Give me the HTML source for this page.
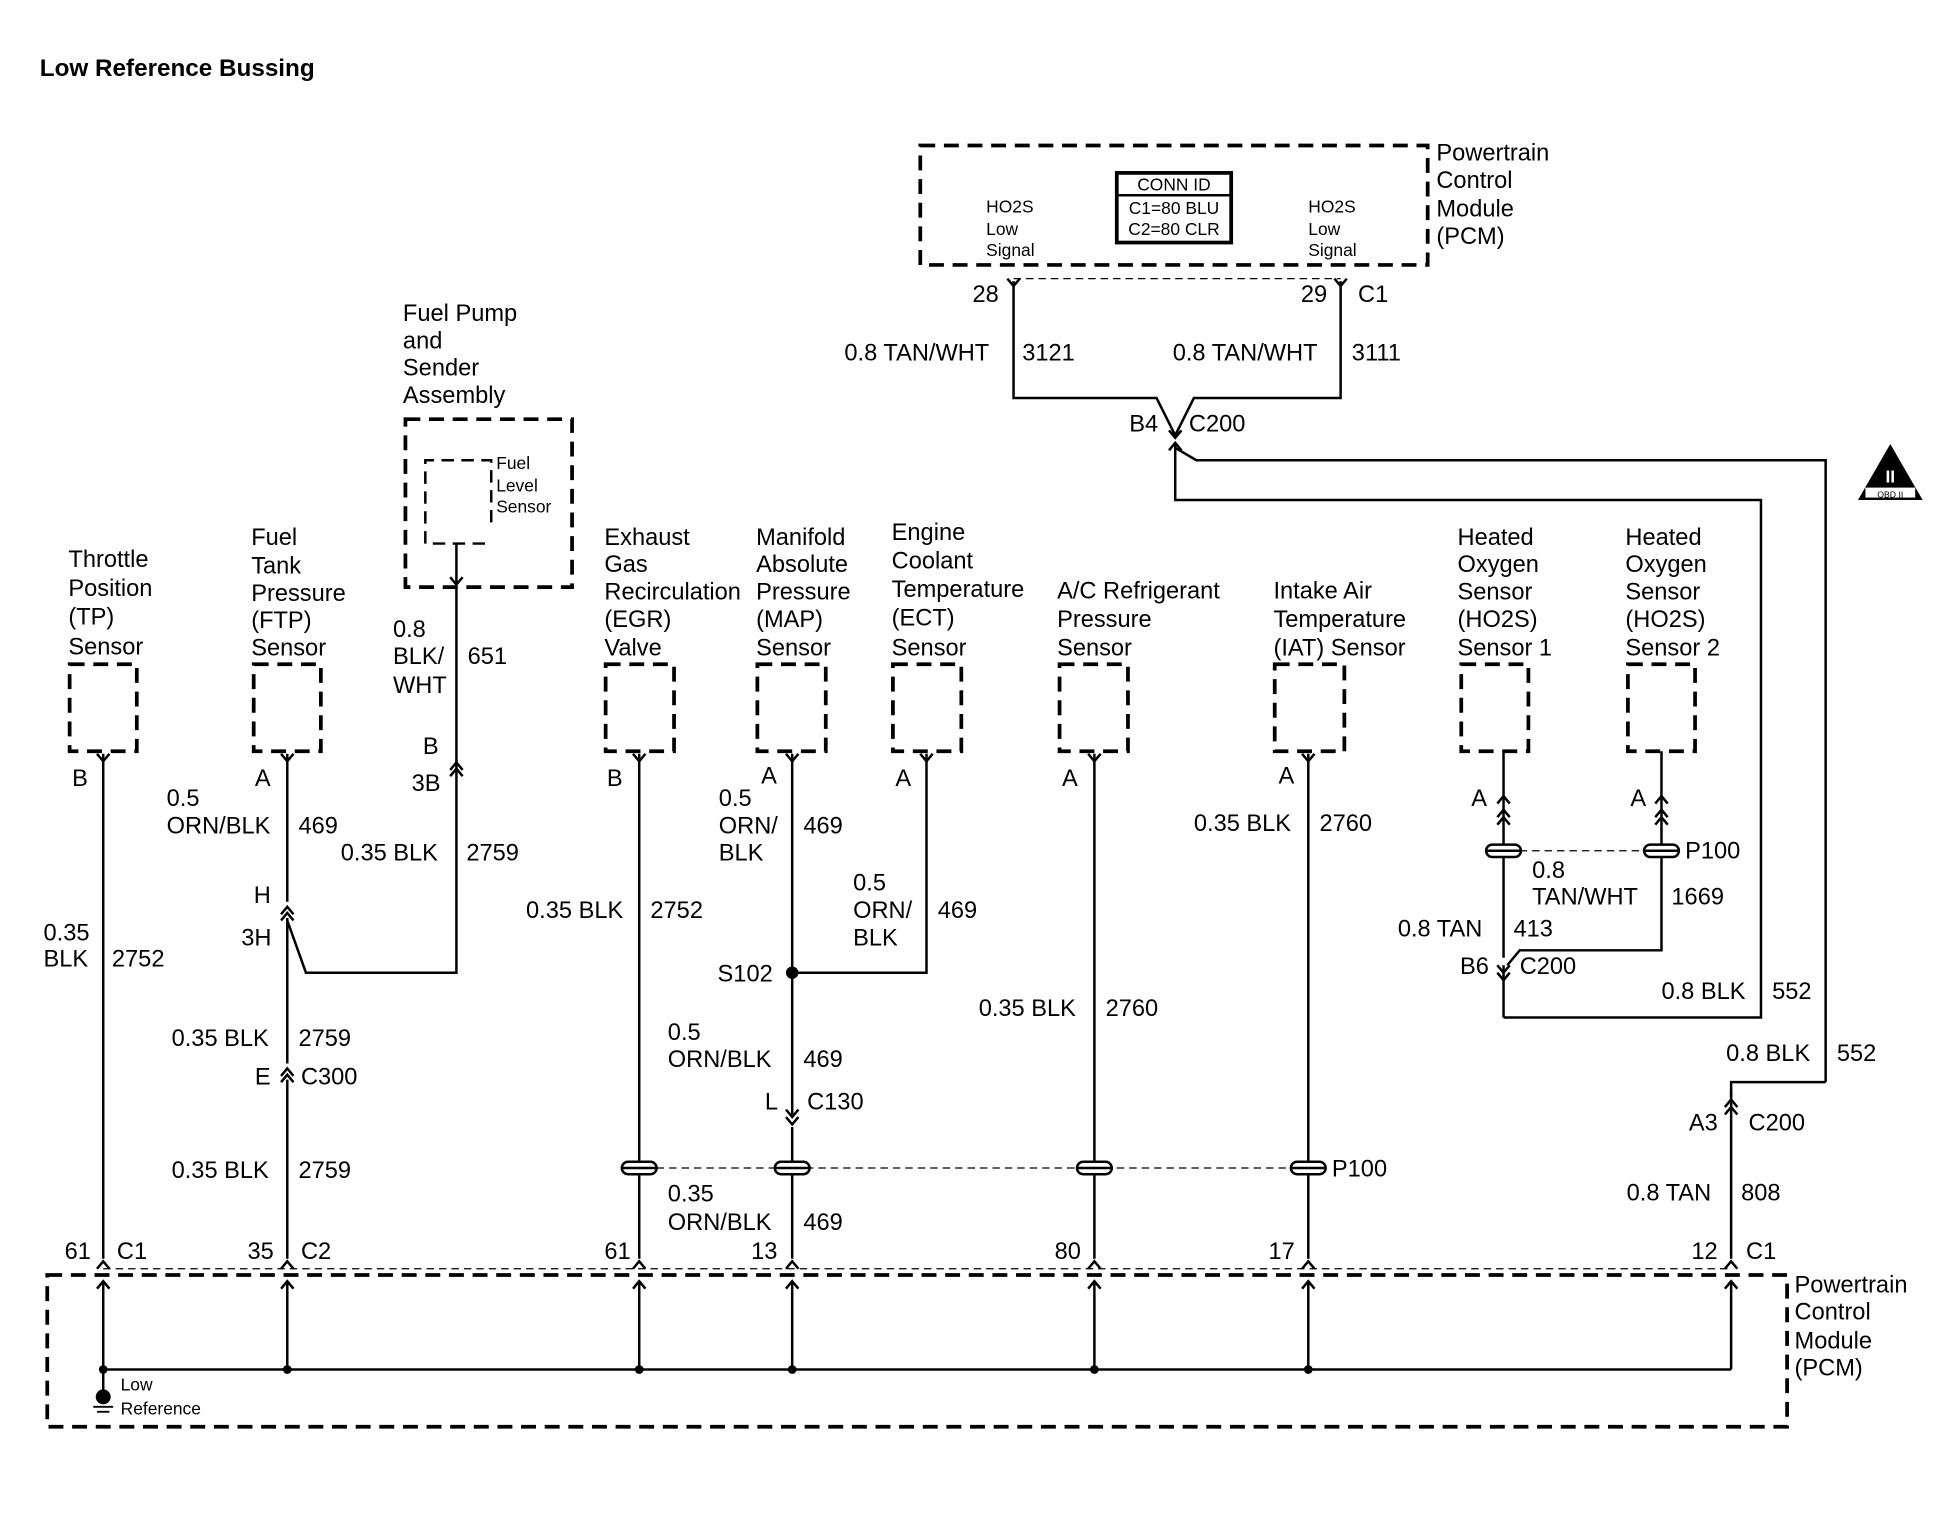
<!DOCTYPE html>
<html><head><meta charset="utf-8"><style>
html,body{margin:0;padding:0;background:#fff;}
svg{display:block;}
text{font-family:"Liberation Sans",Arial,sans-serif;fill:#000;}
.t{font-size:19px;}
.s{font-size:14px;}
.w{stroke:#000;stroke-width:2;fill:none;}
.d{stroke:#000;stroke-width:3;fill:none;stroke-dasharray:12 7;}
.dl{stroke:#000;stroke-width:1;fill:none;stroke-dasharray:6 4;}
</style></head><body>
<svg width="1950" height="1520" viewBox="0 0 1568 1222" preserveAspectRatio="none" xmlns="http://www.w3.org/2000/svg">
<defs>
<path id="cu" d="M-5 6 L0 0 L5 6" stroke="#000" stroke-width="2" fill="none"/>
<path id="cd" d="M-5 -6 L0 0 L5 -6" stroke="#000" stroke-width="2" fill="none"/>
<g id="ic"><rect x="-14" y="-5" width="28" height="10" rx="5" fill="#fff" stroke="#000" stroke-width="2"/><line x1="-14" y1="0" x2="14" y2="0" stroke="#000" stroke-width="2"/></g>
</defs>
<text x="32" y="61" font-weight="bold" style="font-size:19.5px">Low Reference Bussing</text>

<!-- Top PCM -->
<rect x="740" y="117" width="408" height="96" class="d"/>
<rect x="898" y="139" width="92" height="56" fill="none" stroke="#000" stroke-width="3"/>
<line x1="898" y1="157" x2="990" y2="157" stroke="#000" stroke-width="2"/>
<text x="944" y="153" class="s" text-anchor="middle">CONN ID</text>
<text x="944" y="172" class="s" text-anchor="middle">C1=80 BLU</text>
<text x="944" y="189" class="s" text-anchor="middle">C2=80 CLR</text>
<text class="s" x="793" y="171">HO2S</text><text class="s" x="793" y="189">Low</text><text class="s" x="793" y="206">Signal</text>
<text class="s" x="1052" y="171">HO2S</text><text class="s" x="1052" y="189">Low</text><text class="s" x="1052" y="206">Signal</text>
<text class="t" x="1155" y="129">Powertrain</text><text class="t" x="1155" y="151">Control</text><text class="t" x="1155" y="174">Module</text><text class="t" x="1155" y="196">(PCM)</text>
<line x1="815" y1="224" x2="1078" y2="224" class="dl"/>
<use href="#cd" x="815" y="230"/><use href="#cd" x="1078" y="230"/>
<text class="t" x="782" y="243">28</text><text class="t" x="1046" y="243">29</text><text class="t" x="1092" y="243">C1</text>
<path class="w" d="M815 226 V320 H930 L945 350 L960 320 H1078 V226"/>
<text class="t" x="679" y="290">0.8 TAN/WHT</text><text class="t" x="822" y="290">3121</text>
<text class="t" x="943" y="290">0.8 TAN/WHT</text><text class="t" x="1087" y="290">3111</text>
<text class="t" x="908" y="347">B4</text><text class="t" x="956" y="347">C200</text>
<use href="#cd" x="945" y="352"/><use href="#cu" x="945" y="356"/>
<path class="w" d="M945 356 V402 H1416 V818 H1209"/>
<path class="w" d="M945 360 L962 370 H1468 V870"/>
<!-- OBD symbol -->
<polygon points="1520,357 1546,402 1494,402" fill="#000"/>
<text x="1520" y="388" font-size="14" style="fill:#fff" text-anchor="middle" font-weight="bold">II</text>
<rect x="1500" y="392" width="40" height="8" fill="#fff"/>
<text x="1520" y="400" font-size="7" text-anchor="middle">OBD II</text>

<!-- Fuel pump -->
<text class="t" x="324" y="258">Fuel Pump</text><text class="t" x="324" y="280">and</text><text class="t" x="324" y="302">Sender</text><text class="t" x="324" y="324">Assembly</text>
<rect x="326" y="337" width="134" height="135" class="d"/>
<path d="M395 420 V370 H342 V437 H395" class="w" stroke-dasharray="10 6" stroke-width="2.5"/>
<text class="s" x="399" y="377">Fuel</text><text class="s" x="399" y="395">Level</text><text class="s" x="399" y="412">Sensor</text>
<path class="w" d="M367 437 V470"/><use href="#cd" x="367" y="470"/>
<path class="w" d="M367 472 V782 H246 L231 740"/>
<text class="t" x="316" y="512">0.8</text><text class="t" x="316" y="534">BLK/</text><text class="t" x="316" y="557">WHT</text><text class="t" x="376" y="534">651</text>
<text class="t" x="340" y="606">B</text><text class="t" x="331" y="636">3B</text>
<use href="#cu" x="367" y="613"/><use href="#cu" x="367" y="618"/>

<!-- Sensor labels -->
<g class="t">
<text x="55" y="456">Throttle</text><text x="55" y="479">Position</text><text x="55" y="502">(TP)</text><text x="55" y="526">Sensor</text>
<text x="202" y="438">Fuel</text><text x="202" y="461">Tank</text><text x="202" y="483">Pressure</text><text x="202" y="505">(FTP)</text><text x="202" y="527">Sensor</text>
<text x="486" y="438">Exhaust</text><text x="486" y="460">Gas</text><text x="486" y="482">Recirculation</text><text x="486" y="504">(EGR)</text><text x="486" y="527">Valve</text>
<text x="608" y="438">Manifold</text><text x="608" y="460">Absolute</text><text x="608" y="482">Pressure</text><text x="608" y="504">(MAP)</text><text x="608" y="527">Sensor</text>
<text x="717" y="434">Engine</text><text x="717" y="457">Coolant</text><text x="717" y="480">Temperature</text><text x="717" y="503">(ECT)</text><text x="717" y="527">Sensor</text>
<text x="850" y="481">A/C Refrigerant</text><text x="850" y="504">Pressure</text><text x="850" y="527">Sensor</text>
<text x="1024" y="481">Intake Air</text><text x="1024" y="504">Temperature</text><text x="1024" y="527">(IAT) Sensor</text>
<text x="1172" y="438">Heated</text><text x="1172" y="460">Oxygen</text><text x="1172" y="482">Sensor</text><text x="1172" y="504">(HO2S)</text><text x="1172" y="527">Sensor 1</text>
<text x="1307" y="438">Heated</text><text x="1307" y="460">Oxygen</text><text x="1307" y="482">Sensor</text><text x="1307" y="504">(HO2S)</text><text x="1307" y="527">Sensor 2</text>
</g>
<g class="d">
<rect x="56" y="534" width="54" height="70"/><rect x="204" y="534" width="54" height="70"/>
<rect x="487" y="534" width="55" height="70"/><rect x="609" y="534" width="55" height="70"/>
<rect x="718" y="534" width="55" height="70"/><rect x="852" y="534" width="55" height="70"/>
<rect x="1025" y="534" width="56" height="70"/><rect x="1175" y="534" width="54" height="70"/>
<rect x="1309" y="534" width="54" height="70"/>
</g>
<use href="#cd" x="83" y="612"/><use href="#cd" x="231" y="612"/><use href="#cd" x="514" y="612"/>
<use href="#cd" x="637" y="612"/><use href="#cd" x="745" y="612"/><use href="#cd" x="880" y="612"/>
<use href="#cd" x="1052" y="612"/>
<g class="t">
<text x="58" y="632">B</text><text x="205" y="632">A</text><text x="488" y="632">B</text><text x="612" y="630">A</text>
<text x="720" y="632">A</text><text x="854" y="632">A</text><text x="1028" y="630">A</text>
<text x="1183" y="648">A</text><text x="1311" y="648">A</text>
</g>

<!-- wires -->
<g class="w">
<path d="M83 606 V1012"/>
<path d="M231 606 V725"/><path d="M231 738 V855"/><path d="M231 868 V1012"/>
<path d="M514 606 V1012"/>
<path d="M637 606 V896"/><path d="M637 906 V1012"/>
<path d="M745 606 V782 H637"/>
<path d="M880 606 V1012"/>
<path d="M1052 606 V1012"/>
<path d="M1209 604 V770"/><path d="M1209 776 V818"/>
<path d="M1336 604 V764 H1222 L1212 776"/>
<path d="M1392 876 V1012"/>
<path d="M1468 870 H1392 V882"/>
</g>
<circle cx="637" cy="782" r="5" fill="#000"/>
<use href="#cu" x="231" y="729"/><use href="#cu" x="231" y="734"/>
<text class="t" x="204" y="726">H</text><text class="t" x="194" y="760">3H</text>
<use href="#cu" x="231" y="859"/><use href="#cu" x="231" y="864"/>
<text class="t" x="205" y="872">E</text><text class="t" x="242" y="872">C300</text>
<use href="#cd" x="637" y="898"/><use href="#cd" x="637" y="904"/>
<text class="t" x="615" y="892">L</text><text class="t" x="649" y="892">C130</text>
<use href="#cu" x="1209" y="640"/><use href="#cu" x="1209" y="651"/><use href="#cu" x="1209" y="657"/>
<use href="#cu" x="1336" y="640"/><use href="#cu" x="1336" y="651"/><use href="#cu" x="1336" y="657"/>
<line x1="1222" y1="684" x2="1322" y2="684" class="dl"/>
<use href="#ic" x="1209" y="684"/><use href="#ic" x="1336" y="684"/>
<text class="t" x="1355" y="690">P100</text>
<use href="#cd" x="1209" y="782"/><use href="#cd" x="1209" y="788"/>
<text class="t" x="1174" y="783">B6</text><text class="t" x="1222" y="783">C200</text>
<use href="#cu" x="1392" y="884"/><use href="#cu" x="1392" y="890"/>
<text class="t" x="1358" y="909">A3</text><text class="t" x="1406" y="909">C200</text>
<line x1="528" y1="939" x2="1040" y2="939" class="dl"/>
<use href="#ic" x="514" y="939"/><use href="#ic" x="637" y="939"/><use href="#ic" x="880" y="939"/><use href="#ic" x="1052" y="939"/>
<text class="t" x="1071" y="946">P100</text>

<g class="t">
<text x="35" y="756">0.35</text><text x="35" y="777">BLK</text><text x="90" y="777">2752</text>
<text x="134" y="648">0.5</text><text x="134" y="670">ORN/BLK</text><text x="240" y="670">469</text>
<text x="274" y="692">0.35 BLK</text><text x="375" y="692">2759</text>
<text x="138" y="841">0.35 BLK</text><text x="240" y="841">2759</text>
<text x="138" y="947">0.35 BLK</text><text x="240" y="947">2759</text>
<text x="423" y="738">0.35 BLK</text><text x="523" y="738">2752</text>
<text x="578" y="648">0.5</text><text x="578" y="670">ORN/</text><text x="578" y="692">BLK</text><text x="646" y="670">469</text>
<text x="686" y="716">0.5</text><text x="686" y="738">ORN/</text><text x="686" y="760">BLK</text><text x="754" y="738">469</text>
<text x="577" y="789">S102</text>
<text x="537" y="836">0.5</text><text x="537" y="858">ORN/BLK</text><text x="646" y="858">469</text>
<text x="537" y="966">0.35</text><text x="537" y="989">ORN/BLK</text><text x="646" y="989">469</text>
<text x="787" y="817">0.35 BLK</text><text x="889" y="817">2760</text>
<text x="960" y="668">0.35 BLK</text><text x="1061" y="668">2760</text>
<text x="1232" y="706">0.8</text><text x="1232" y="727">TAN/WHT</text><text x="1344" y="727">1669</text>
<text x="1124" y="753">0.8 TAN</text><text x="1217" y="753">413</text>
<text x="1336" y="803">0.8 BLK</text><text x="1425" y="803">552</text>
<text x="1388" y="853">0.8 BLK</text><text x="1477" y="853">552</text>
<text x="1308" y="965">0.8 TAN</text><text x="1400" y="965">808</text>
</g>

<line x1="83" y1="1020" x2="1392" y2="1020" class="dl"/>
<rect x="38" y="1025" width="1399" height="122" class="d"/>
<g class="t">
<text x="52" y="1012">61</text><text x="94" y="1012">C1</text>
<text x="199" y="1012">35</text><text x="242" y="1012">C2</text>
<text x="486" y="1012">61</text><text x="604" y="1012">13</text><text x="848" y="1012">80</text>
<text x="1020" y="1012">17</text><text x="1360" y="1012">12</text><text x="1404" y="1012">C1</text>
<text x="1443" y="1039">Powertrain</text><text x="1443" y="1061">Control</text><text x="1443" y="1084">Module</text><text x="1443" y="1106">(PCM)</text>
</g>
<g>
<use href="#cu" x="83" y="1014"/><use href="#cu" x="231" y="1014"/><use href="#cu" x="514" y="1014"/><use href="#cu" x="637" y="1014"/>
<use href="#cu" x="880" y="1014"/><use href="#cu" x="1052" y="1014"/><use href="#cu" x="1392" y="1014"/>
<use href="#cu" x="83" y="1030"/><use href="#cu" x="231" y="1030"/><use href="#cu" x="514" y="1030"/><use href="#cu" x="637" y="1030"/>
<use href="#cu" x="880" y="1030"/><use href="#cu" x="1052" y="1030"/><use href="#cu" x="1392" y="1030"/>
</g>
<g class="w">
<path d="M83 1030 V1123"/><path d="M231 1030 V1101"/><path d="M514 1030 V1101"/><path d="M637 1030 V1101"/>
<path d="M880 1030 V1101"/><path d="M1052 1030 V1101"/><path d="M1392 1030 V1101"/>
<path d="M83 1101 H1392"/>
</g>
<g fill="#000">
<circle cx="83" cy="1101" r="3.5"/><circle cx="231" cy="1101" r="3.5"/><circle cx="514" cy="1101" r="3.5"/><circle cx="637" cy="1101" r="3.5"/>
<circle cx="880" cy="1101" r="3.5"/><circle cx="1052" cy="1101" r="3.5"/>
<circle cx="83" cy="1123" r="6"/>
</g>
<line x1="75" y1="1131" x2="91" y2="1131" stroke="#000" stroke-width="1.5"/>
<line x1="78" y1="1135" x2="88" y2="1135" stroke="#000" stroke-width="1.5"/>
<text class="s" x="97" y="1118">Low</text><text class="s" x="97" y="1137">Reference</text>
</svg>
</body></html>
